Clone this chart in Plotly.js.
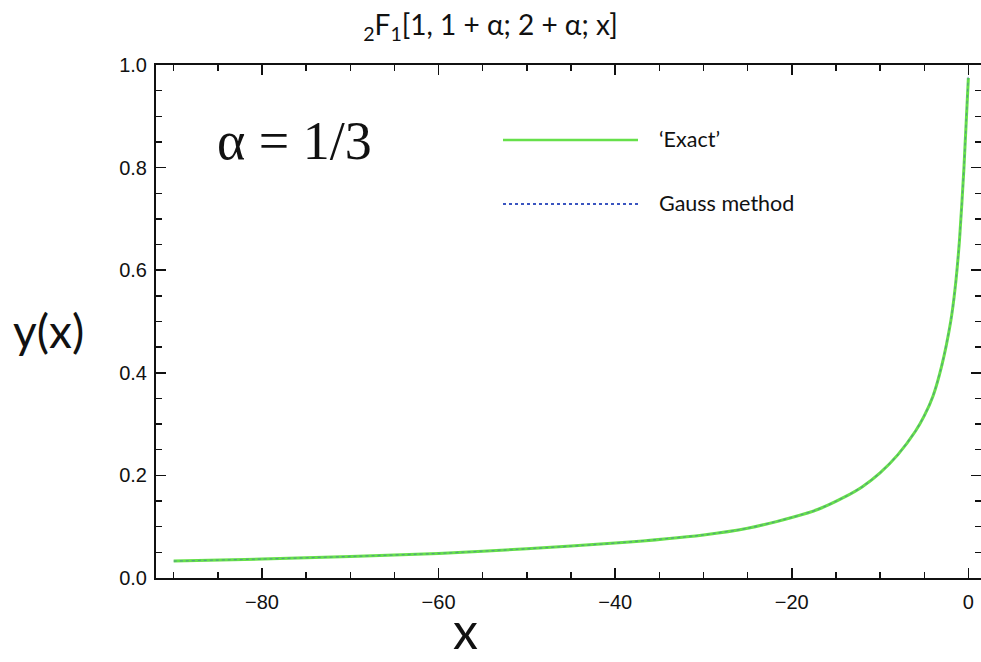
<!DOCTYPE html>
<html>
<head>
<meta charset="utf-8">
<script src="https://cdn.plot.ly/plotly-3.0.1.min.js"></script>
<style>html,body{margin:0;padding:0;background:#fff;}#chart{width:981px;height:662px;}</style>
</head>
<body>
<div id="chart"></div>
<script>
// Values
const xValues = [-90, -80, -70, -60, -50, -40, -30, -25, -20, -17, -14, -12, -10, -8, -6, -5, -4, -3, -2, -1.5, -1, -0.5, 0];
const exactValues = [0.033, 0.037, 0.042, 0.048, 0.057, 0.068, 0.084, 0.097, 0.118, 0.134, 0.158, 0.178, 0.205, 0.24, 0.286, 0.316, 0.355, 0.415, 0.5, 0.565, 0.66, 0.8, 0.975];
const gaussValues = [0.033, 0.037, 0.042, 0.048, 0.057, 0.068, 0.084, 0.097, 0.118, 0.134, 0.158, 0.178, 0.205, 0.24, 0.286, 0.316, 0.355, 0.415, 0.5, 0.565, 0.66, 0.8, 0.985];
const seriesNames = ["\u2018Exact\u2019", "Gauss method"];
const xTickVals = [-80, -60, -40, -20, 0];
const xTickText = ['\u221280', '\u221260', '\u221240', '\u221220', '0'];
const yTickVals = [0, 0.2, 0.4, 0.6, 0.8, 1.0];
const yTickText = ["0.0", "0.2", "0.4", "0.6", "0.8", "1.0"];

const greenCol = '#66e04a';
const blueCol = '#3a55c0';
const humanist = 'Lato, "Open Sans", sans-serif';

const traces = [
  {x: xValues, y: exactValues, type: 'scatter', mode: 'lines', name: seriesNames[0],
   line: {color: greenCol, width: 3, shape: 'spline', smoothing: 0.6}, showlegend: false},
  {x: xValues, y: gaussValues, type: 'scatter', mode: 'lines', name: seriesNames[1],
   line: {color: blueCol, width: 1.2, dash: 'dot', shape: 'spline', smoothing: 0.6}, opacity: 0.45, showlegend: false}
];

const axisCommon = {
  showgrid: false, zeroline: false, showline: true, linecolor: '#111', linewidth: 2,
  ticks: 'inside', ticklen: 10, tickwidth: 1.6, tickcolor: '#111', mirror: 'ticks',
  tickfont: {family: 'Liberation Sans, Arial, sans-serif', size: 20, color: '#111'}
};

const layout = {
  width: 981, height: 662,
  margin: {l: 156, r: 0, t: 65, b: 84},
  paper_bgcolor: '#fff', plot_bgcolor: '#fff',
  title: {text: '<sub>2</sub>F<sub>1</sub>[1, 1 + \u03b1; 2 + \u03b1; x]', x: 0.5, xref: 'container', xanchor: 'center',
          y: 0.962, yref: 'container', yanchor: 'middle',
          font: {family: humanist, size: 28, color: '#111'}},
  xaxis: Object.assign({}, axisCommon, {
    range: [-92, 1.43], tickvals: xTickVals, ticktext: xTickText,
    minor: {dtick: 5, tick0: 0, ticks: 'inside', ticklen: 6, tickwidth: 1.4, tickcolor: '#111'},
    ticklabelstandoff: 5
  }),
  yaxis: Object.assign({}, axisCommon, {
    range: [0, 1], tickvals: yTickVals, ticktext: yTickText,
    minor: {dtick: 0.05, tick0: 0, ticks: 'inside', ticklen: 6, tickwidth: 1.4, tickcolor: '#111'},
    ticklabelstandoff: 3
  }),
  annotations: [
    {text: 'x', xref: 'paper', yref: 'paper', x: (465 - 156) / 825, y: (578 - 662) / 513, xanchor: 'center', yanchor: 'bottom',
     showarrow: false, font: {family: humanist, size: 50, color: '#111'}},
    {text: 'y(x)', xref: 'paper', yref: 'paper', x: (11 - 156) / 825, y: (578 - 330) / 513, xanchor: 'left', yanchor: 'middle',
     showarrow: false, font: {family: humanist, size: 46, color: '#111'}},
    {text: '\u03b1 = 1/3', xref: 'paper', yref: 'paper', x: (215 - 156) / 825, y: (578 - 141) / 513, xanchor: 'left', yanchor: 'middle',
     showarrow: false, font: {family: 'Liberation Serif, "Times New Roman", serif', size: 54, color: '#111'}},
    {text: seriesNames[0], xref: 'paper', yref: 'paper', x: (657 - 156) / 825, y: (578 - 139) / 513, xanchor: 'left', yanchor: 'middle',
     showarrow: false, font: {family: humanist, size: 21.5, color: '#111'}},
    {text: seriesNames[1], xref: 'paper', yref: 'paper', x: (657 - 156) / 825, y: (578 - 203) / 513, xanchor: 'left', yanchor: 'middle',
     showarrow: false, font: {family: humanist, size: 21.5, color: '#111'}}
  ],
  shapes: [
    {type: 'line', xref: 'paper', yref: 'paper', x0: (503 - 156) / 825, x1: (638 - 156) / 825, y0: (578 - 140) / 513, y1: (578 - 140) / 513,
     line: {color: greenCol, width: 2.5}},
    {type: 'line', xref: 'paper', yref: 'paper', x0: (503 - 156) / 825, x1: (638 - 156) / 825, y0: (578 - 204) / 513, y1: (578 - 204) / 513,
     line: {color: blueCol, width: 2, dash: 'dot'}}
  ]
};

Plotly.newPlot('chart', traces, layout, {displayModeBar: false, staticPlot: true});
</script>
</body>
</html>
